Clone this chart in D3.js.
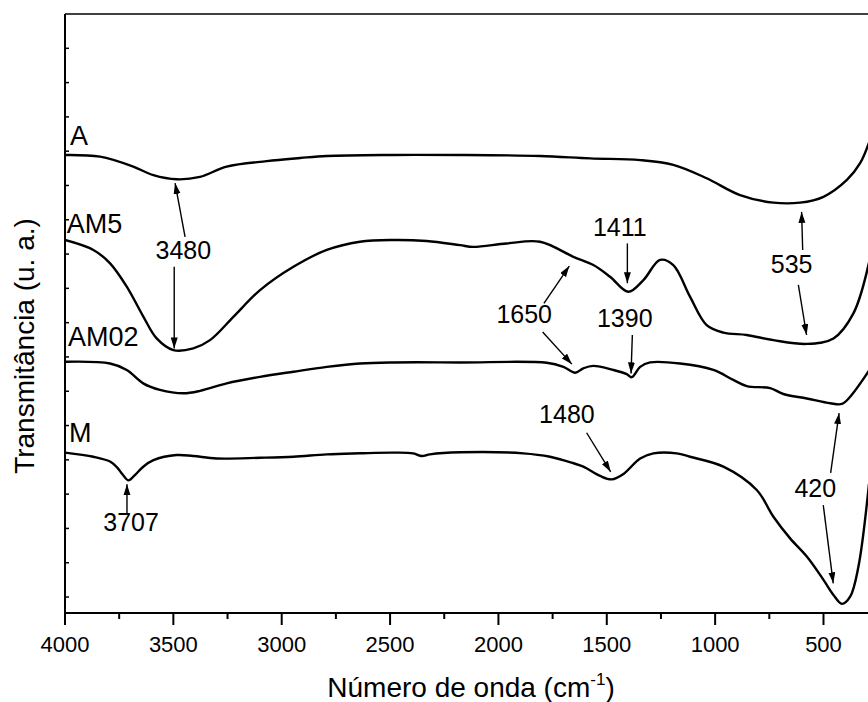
<!DOCTYPE html>
<html>
<head>
<meta charset="utf-8">
<script src="https://cdn.jsdelivr.net/npm/d3@7"></script>
<style>
body { margin: 0; background: #fff; }
svg { display: block; }
text { font-family: "Liberation Sans", Arial, sans-serif; fill: #000; }
</style>
</head>
<body>
<div class="container"></div>
<script>
// FTIR spectra (wavenumber cm-1, transmittance in arbitrary units)
var waveA = [4000, 3838, 3685, 3592, 3484, 3377, 3254, 3069, 2915, 2792, 2485, 2177, 1808, 1577, 1346, 1193,
    1039, 885, 731, 608, 500, 392, 331, 290];
var transA = [12.89, 12.84, 12.55, 12.30, 12.18, 12.25, 12.55, 12.71, 12.80, 12.86, 12.89, 12.89, 12.86, 12.79,
    12.74, 12.60, 12.21, 11.72, 11.50, 11.50, 11.67, 12.16, 12.65, 13.25];

var waveAM5 = [4000, 3869, 3792, 3715, 3638, 3577, 3500, 3408, 3331, 3223, 3100, 2946, 2792, 2639, 2485, 2331,
    2177, 2116, 1962, 1808, 1654, 1562, 1485, 1400, 1331, 1254, 1193, 1116, 1039, 962, 854, 731, 577, 454, 362, 290];
var transAM5 = [10.41, 10.12, 9.73, 9.05, 8.17, 7.54, 7.20, 7.25, 7.49, 8.17, 8.95, 9.63, 10.12, 10.36, 10.41,
    10.38, 10.26, 10.21, 10.31, 10.36, 9.92, 9.68, 9.34, 8.90, 9.24, 9.83, 9.68, 8.76, 7.93, 7.71, 7.64, 7.49,
    7.38, 7.54, 8.27, 9.75];

var waveAM02 = [4000, 3792, 3715, 3639, 3562, 3454, 3377, 3254, 3100, 2946, 2792, 2639, 2485, 2177, 1777, 1700,
    1646, 1608, 1562, 1469, 1408, 1385, 1346, 1300, 1162, 1008, 916, 854, 746, 685, 577, 469, 415, 377, 290];
var transAM02 = [6.86, 6.81, 6.62, 6.23, 6.04, 5.94, 6.01, 6.23, 6.42, 6.57, 6.71, 6.81, 6.84, 6.84, 6.83, 6.71,
    6.54, 6.67, 6.74, 6.62, 6.50, 6.41, 6.71, 6.84, 6.81, 6.62, 6.33, 6.15, 6.09, 5.92, 5.79, 5.65, 5.63, 5.84, 6.60];

var waveM = [4000, 3869, 3792, 3760, 3735, 3707, 3680, 3639, 3592, 3485, 3408, 3300, 3100, 2946, 2792, 2639,
    2485, 2393, 2354, 2316, 2177, 1885, 1762, 1654, 1608, 1531, 1477, 1423, 1346, 1285, 1177, 1116, 962, 808,
    731, 654, 577, 500, 454, 415, 377, 339, 290];
var transM = [4.21, 4.09, 3.95, 3.78, 3.58, 3.40, 3.54, 3.80, 3.99, 4.14, 4.11, 4.04, 4.06, 4.09, 4.16, 4.19,
    4.21, 4.19, 4.11, 4.16, 4.22, 4.19, 4.09, 3.90, 3.80, 3.53, 3.43, 3.59, 4.04, 4.19, 4.19, 4.09, 3.80, 3.12,
    2.34, 1.71, 1.18, 0.50, 0.06, -0.20, 0.01, 0.88, 3.30];

var seriesNames = ['A', 'AM5', 'AM02', 'M'];
// label anchor: [wavenumber at left edge, baseline value]
var seriesLabelPos = [[3977, 13.18], [3992, 10.60], [3986, 7.33], [3982, 4.53]];

var xMajorTicks = [4000, 3500, 3000, 2500, 2000, 1500, 1000, 500];
var xMinorTicks = [3750, 3250, 2750, 2250, 1750, 1250, 750];
var yTicks = d3.range(0, 17);

// peak annotations: label, text centre [wave, baseline value], arrows [[fromWave, fromVal, toWave, toVal], ...]
var peakLabels = ['3480', '1411', '1650', '1390', '535', '1480', '420', '3707'];
var peakTextPos = [[3454, 9.87], [1440, 10.53], [1881, 8.00], [1417, 7.86], [647, 9.46], [1684, 5.08],
    [538, 2.92], [3695, 1.92]];
var peakArrows = [
    [[3446, 10.50, 3492, 12.07], [3496, 9.63, 3496, 7.25]],
    [[1405, 10.31, 1405, 9.15]],
    [[1790, 8.56, 1673, 9.65], [1796, 7.73, 1661, 6.79]],
    [[1382, 7.64, 1388, 6.52]],
    [[596, 10.12, 601, 11.23], [616, 9.10, 578, 7.64]],
    [[1593, 4.79, 1482, 3.65]],
    [[467, 3.62, 428, 5.36], [501, 2.68, 455, 0.40]],
    [[3714, 2.42, 3714, 3.29]]
];

var WIDTH = 868, HEIGHT = 702;
var LEFT = 65, RIGHT = 869, TOP = 14, BOTTOM = 613;

var xScale = d3.scaleLinear().domain([4000, 290]).range([LEFT, RIGHT]);
var yScale = d3.scaleLinear().domain([-0.466, 17.0]).range([BOTTOM, TOP]);

var svg = d3.select('.container').append('svg')
    .attr('width', WIDTH)
    .attr('height', HEIGHT);

svg.append('defs').append('clipPath').attr('id', 'plotClip')
    .append('rect')
    .attr('x', LEFT).attr('y', TOP)
    .attr('width', RIGHT - LEFT).attr('height', BOTTOM - TOP);

svg.select('defs').append('marker')
    .attr('id', 'arrowHead')
    .attr('markerUnits', 'userSpaceOnUse')
    .attr('markerWidth', 12).attr('markerHeight', 8)
    .attr('refX', 11).attr('refY', 3.5)
    .attr('orient', 'auto')
    .append('path')
    .attr('d', 'M0,0 L11,3.5 L0,7 Z')
    .attr('fill', '#000');

// frame
svg.append('line')
    .attr('x1', LEFT).attr('x2', RIGHT)
    .attr('y1', TOP).attr('y2', TOP)
    .attr('stroke', '#000').attr('stroke-width', 1.3);
svg.append('line')
    .attr('x1', RIGHT).attr('x2', RIGHT)
    .attr('y1', TOP).attr('y2', BOTTOM)
    .attr('stroke', '#000').attr('stroke-width', 1.3);

// x axis
var xAxis = svg.append('g').attr('class', 'xAxis');
xAxis.append('line')
    .attr('x1', LEFT - 1).attr('x2', RIGHT)
    .attr('y1', BOTTOM).attr('y2', BOTTOM)
    .attr('stroke', '#000').attr('stroke-width', 2);
xAxis.selectAll('.major')
    .data(xMajorTicks)
    .enter()
    .append('line')
    .attr('class', 'major')
    .attr('x1', function (d) { return xScale(d); })
    .attr('x2', function (d) { return xScale(d); })
    .attr('y1', BOTTOM)
    .attr('y2', BOTTOM + 12)
    .attr('stroke', '#000').attr('stroke-width', 2);
xAxis.selectAll('.minor')
    .data(xMinorTicks)
    .enter()
    .append('line')
    .attr('class', 'minor')
    .attr('x1', function (d) { return xScale(d); })
    .attr('x2', function (d) { return xScale(d); })
    .attr('y1', BOTTOM)
    .attr('y2', BOTTOM + 6)
    .attr('stroke', '#000').attr('stroke-width', 2);
xAxis.selectAll('.tickLabel')
    .data(xMajorTicks)
    .enter()
    .append('text')
    .attr('class', 'tickLabel')
    .attr('x', function (d) { return xScale(d); })
    .attr('y', BOTTOM + 39)
    .attr('text-anchor', 'middle')
    .attr('font-size', 22)
    .text(function (d) { return d; });

var xTitle = svg.append('text')
    .attr('x', 471)
    .attr('y', 697)
    .attr('text-anchor', 'middle')
    .attr('font-size', 28);
xTitle.append('tspan').text('Número de onda (cm');
xTitle.append('tspan').attr('font-size', 17).attr('dy', -12).text('-1');
xTitle.append('tspan').attr('dy', 12).text(')');

// y axis
var yAxis = svg.append('g').attr('class', 'yAxis');
yAxis.append('line')
    .attr('x1', LEFT).attr('x2', LEFT)
    .attr('y1', TOP).attr('y2', BOTTOM + 1)
    .attr('stroke', '#000').attr('stroke-width', 2);
yAxis.selectAll('.tick')
    .data(yTicks)
    .enter()
    .append('line')
    .attr('class', 'tick')
    .attr('x1', LEFT)
    .attr('x2', LEFT + 4)
    .attr('y1', function (d) { return yScale(d); })
    .attr('y2', function (d) { return yScale(d); })
    .attr('stroke', '#000').attr('stroke-width', 1.5);

svg.append('text')
    .attr('transform', 'translate(34,346) rotate(-90)')
    .attr('text-anchor', 'middle')
    .attr('font-size', 28)
    .text('Transmitância (u. a.)');

// spectra
var seriesData = [
    d3.zip(waveA, transA),
    d3.zip(waveAM5, transAM5),
    d3.zip(waveAM02, transAM02),
    d3.zip(waveM, transM)
];

var line = d3.line()
    .x(function (d) { return xScale(d[0]); })
    .y(function (d) { return yScale(d[1]); })
    .curve(d3.curveCatmullRom.alpha(0.5));

svg.append('g')
    .attr('clip-path', 'url(#plotClip)')
    .selectAll('path')
    .data(seriesData)
    .enter()
    .append('path')
    .attr('d', line)
    .attr('fill', 'none')
    .attr('stroke', '#000')
    .attr('stroke-width', 2.4)
    .attr('stroke-linejoin', 'round');

svg.selectAll('.seriesLabel')
    .data(seriesNames)
    .enter()
    .append('text')
    .attr('class', 'seriesLabel')
    .attr('x', function (d, i) { return xScale(seriesLabelPos[i][0]); })
    .attr('y', function (d, i) { return yScale(seriesLabelPos[i][1]); })
    .attr('font-size', 27)
    .text(function (d) { return d; });

// annotations
svg.selectAll('.peakLabel')
    .data(peakLabels)
    .enter()
    .append('text')
    .attr('class', 'peakLabel')
    .attr('x', function (d, i) { return xScale(peakTextPos[i][0]); })
    .attr('y', function (d, i) { return yScale(peakTextPos[i][1]); })
    .attr('text-anchor', 'middle')
    .attr('font-size', 25)
    .text(function (d) { return d; });

svg.append('g').selectAll('line')
    .data(d3.merge(peakArrows))
    .enter()
    .append('line')
    .attr('x1', function (d) { return xScale(d[0]); })
    .attr('y1', function (d) { return yScale(d[1]); })
    .attr('x2', function (d) { return xScale(d[2]); })
    .attr('y2', function (d) { return yScale(d[3]); })
    .attr('stroke', '#000')
    .attr('stroke-width', 1.4)
    .attr('marker-end', 'url(#arrowHead)');
</script>
</body>
</html>
